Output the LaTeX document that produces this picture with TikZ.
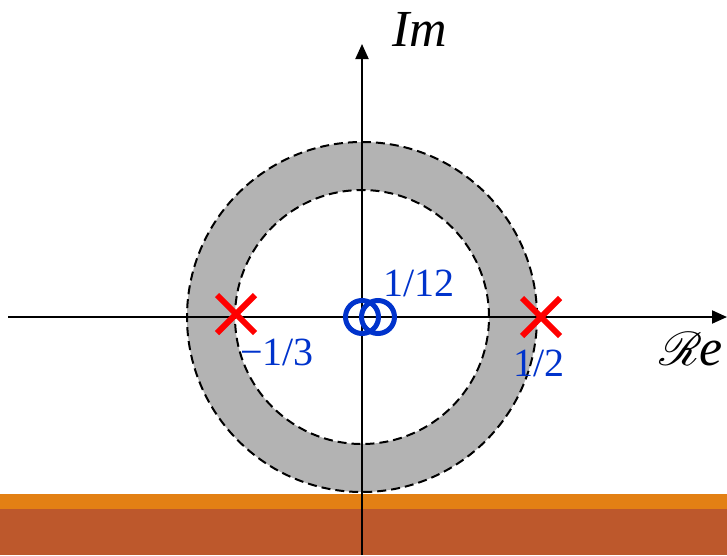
\documentclass[tikz,border=0pt]{standalone}
\usepackage{fontspec}
\setmainfont{Liberation Serif}
\usepackage{mathrsfs}
\usetikzlibrary{shapes.misc,arrows.meta,positioning}
\definecolor{zeroblue}{HTML}{0033CC}
\definecolor{ringgray}{HTML}{B3B3B3}
\definecolor{barorange}{HTML}{E38014}
\definecolor{barbrown}{HTML}{BD582C}

\begin{document}
\begin{tikzpicture}[x=1pt, y=-1pt,
  axis/.style={line width=2pt, -{Triangle[length=15pt, width=13pt]}},
  pole/.style={cross out, draw=red, line width=6pt, minimum size=32pt, inner sep=0pt},
  zero/.style={circle, draw=zeroblue, line width=5pt, minimum size=33pt, inner sep=0pt},
  lbl/.style={text=zeroblue, font=\fontsize{40}{44}\selectfont, inner sep=0pt},
  ring/.style={draw=black, line width=2pt, dash pattern=on 9pt off 5pt}]
  \useasboundingbox (0,0) rectangle (727,555);

  % bars at the bottom
  \fill[barorange] (0,494) rectangle (727,509);
  \fill[barbrown] (0,509) rectangle (727,555);

  % ROC ring
  \coordinate (o) at (362,317);
  \fill[ringgray, even odd rule] (o) circle (175pt) (o) circle (127pt);
  \draw[ring] (o) circle (175pt);
  \draw[ring] (o) circle (127pt);

  % axes
  \coordinate (west) at (8,317);
  \coordinate (east) at (727,317);
  \coordinate (south) at (362,555);
  \coordinate (north) at (362,44);
  \draw[axis] (west) -- (east);
  \draw[axis] (south) -- (north);
  \node[font=\fontsize{52}{56}\selectfont\itshape, inner sep=0pt] (im) at (420,29) {Im};
  \node[font=\fontsize{52}{56}\selectfont, inner sep=0pt] (re) at (691,349)
    {\scalebox{1.9}{$\mathscr{R}$}\kern-3pt\textit{e}};

  % poles
  \node[pole] (p1) at (236,314) {};
  \node[pole] (p2) at (541,317) {};
  \node[lbl] (p1lbl) at (277,352) {−1/3};
  \node[lbl] (p2lbl) at (539,363) {1/2};

  % zeros
  \node[zero] (z1) at (362,317) {};
  \node[zero] (z2) at (378,317) {};
  \node[lbl] (zlbl) at (419,283) {1/12};
\end{tikzpicture}
\end{document}
